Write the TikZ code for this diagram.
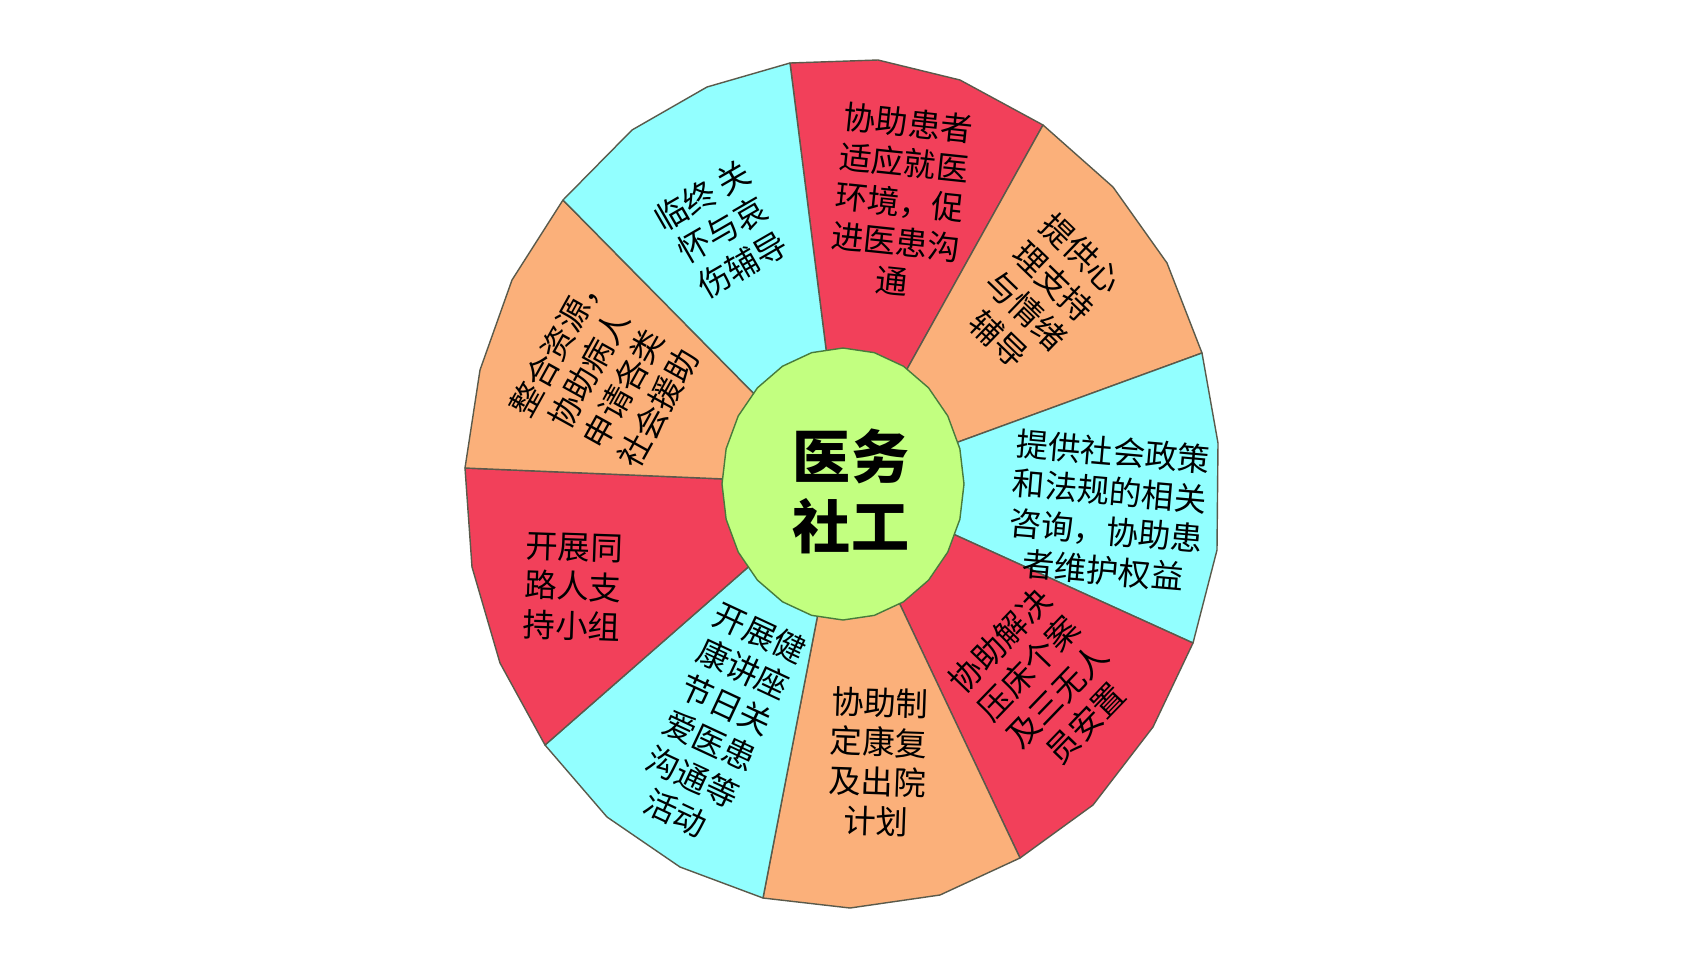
\documentclass[tikz,border=0pt]{standalone}
\usepackage{fontspec}
\newfontfamily\cjk{Noto Sans CJK SC}
\definecolor{wred}{RGB}{242,64,90}
\definecolor{worange}{RGB}{251,176,122}
\definecolor{wcyan}{RGB}{146,255,255}
\definecolor{wgreen}{RGB}{194,255,128}
\definecolor{wline}{RGB}{90,90,75}
\begin{document}
\begin{tikzpicture}[x=0.01cm,y=-0.01cm,
  wedge/.style={draw=wline,line width=0.4pt,line join=round},
  hub/.style={draw=wline!80!green,line width=0.4pt,fill=wgreen,line join=round},
  lbl/.style={align=center,inner sep=0pt,text=black,font=\cjk\fontsize{9.2}{11.3}\selectfont},
  hubtext/.style={align=center,inner sep=0pt,text=black,font=\cjk\bfseries\fontsize{16.5}{19.9}\selectfont}]
\useasboundingbox (0,0) rectangle (1702,963);
\fill[white] (0,0) rectangle (1702,963);
% centre and outer vertices
\coordinate (O) at (843,484);
\coordinate (v0) at (790,63);
\coordinate (v1) at (878,60);
\coordinate (v2) at (960,80);
\coordinate (v3) at (1043,125);
\coordinate (v4) at (1113,187);
\coordinate (v5) at (1167,263);
\coordinate (v6) at (1202,353);
\coordinate (v7) at (1218,443);
\coordinate (v8) at (1217,550);
\coordinate (v9) at (1193,643);
\coordinate (v10) at (1153,727);
\coordinate (v11) at (1093,805);
\coordinate (v12) at (1020,858);
\coordinate (v13) at (940,895);
\coordinate (v14) at (850,908);
\coordinate (v15) at (763,898);
\coordinate (v16) at (680,867);
\coordinate (v17) at (607,817);
\coordinate (v18) at (545,745);
\coordinate (v19) at (500,663);
\coordinate (v20) at (472,567);
\coordinate (v21) at (465,468);
\coordinate (v22) at (480,370);
\coordinate (v23) at (512,280);
\coordinate (v24) at (563,200);
\coordinate (v25) at (632,130);
\coordinate (v26) at (707,87);
% wedges
\draw[wedge,fill=wred]    (O) -- (v0) -- (v1) -- (v2) -- (v3) -- cycle;
\draw[wedge,fill=worange] (O) -- (v3) -- (v4) -- (v5) -- (v6) -- cycle;
\draw[wedge,fill=wcyan]   (O) -- (v6) -- (v7) -- (v8) -- (v9) -- cycle;
\draw[wedge,fill=wred]    (O) -- (v9) -- (v10) -- (v11) -- (v12) -- cycle;
\draw[wedge,fill=worange] (O) -- (v12) -- (v13) -- (v14) -- (v15) -- cycle;
\draw[wedge,fill=wcyan]   (O) -- (v15) -- (v16) -- (v17) -- (v18) -- cycle;
\draw[wedge,fill=wred]    (O) -- (v18) -- (v19) -- (v20) -- (v21) -- cycle;
\draw[wedge,fill=worange] (O) -- (v21) -- (v22) -- (v23) -- (v24) -- cycle;
\draw[wedge,fill=wcyan]   (O) -- (v24) -- (v25) -- (v26) -- (v0) -- cycle;
% hub
\begin{scope}[shift={(843,484)}]
\draw[hub] (0:121 and 136) \foreach \a in {15,30,...,345} { -- (\a:121 and 136) } -- cycle;
\end{scope}
% labels
\node[lbl,rotate=-6] (t1) at (900,202) {协助患者\\适应就医\\环境，促\\进医患沟\\通};
\node[lbl,rotate=-44] (t2) at (1040,296) {提供心\\理支持\\与情绪\\辅导};
\node[lbl,rotate=-5] (t3) at (1108,511) {提供社会政策\\和法规的相关\\咨询，协助患\\者维护权益};
\node[lbl,rotate=46] (t4) at (1043,682) {协助解决\\压床个案\\及三无人\\员安置};
\node[lbl,rotate=-2] (t5) at (878,762) {协助制\\定康复\\及出院\\计划};
\node[lbl,rotate=-25] (t6) at (718,723) {开展健\\康讲座\\节日关\\爱医患\\沟通等\\活动};
\node[lbl,rotate=-2] (t7) at (573,587) {开展同\\路人支\\持小组};
\node[lbl,rotate=61] (t8) at (606,379) {整合资源\makebox[0.5em][l]{，}\\协助病人\\申请各类\\社会援助};
\node[lbl,rotate=30] (t9) at (722,230) {临终 关\\怀与哀\\伤辅导};
\node[hubtext] (hubt) at (851,491) {医务\\社工};
\end{tikzpicture}
\end{document}
